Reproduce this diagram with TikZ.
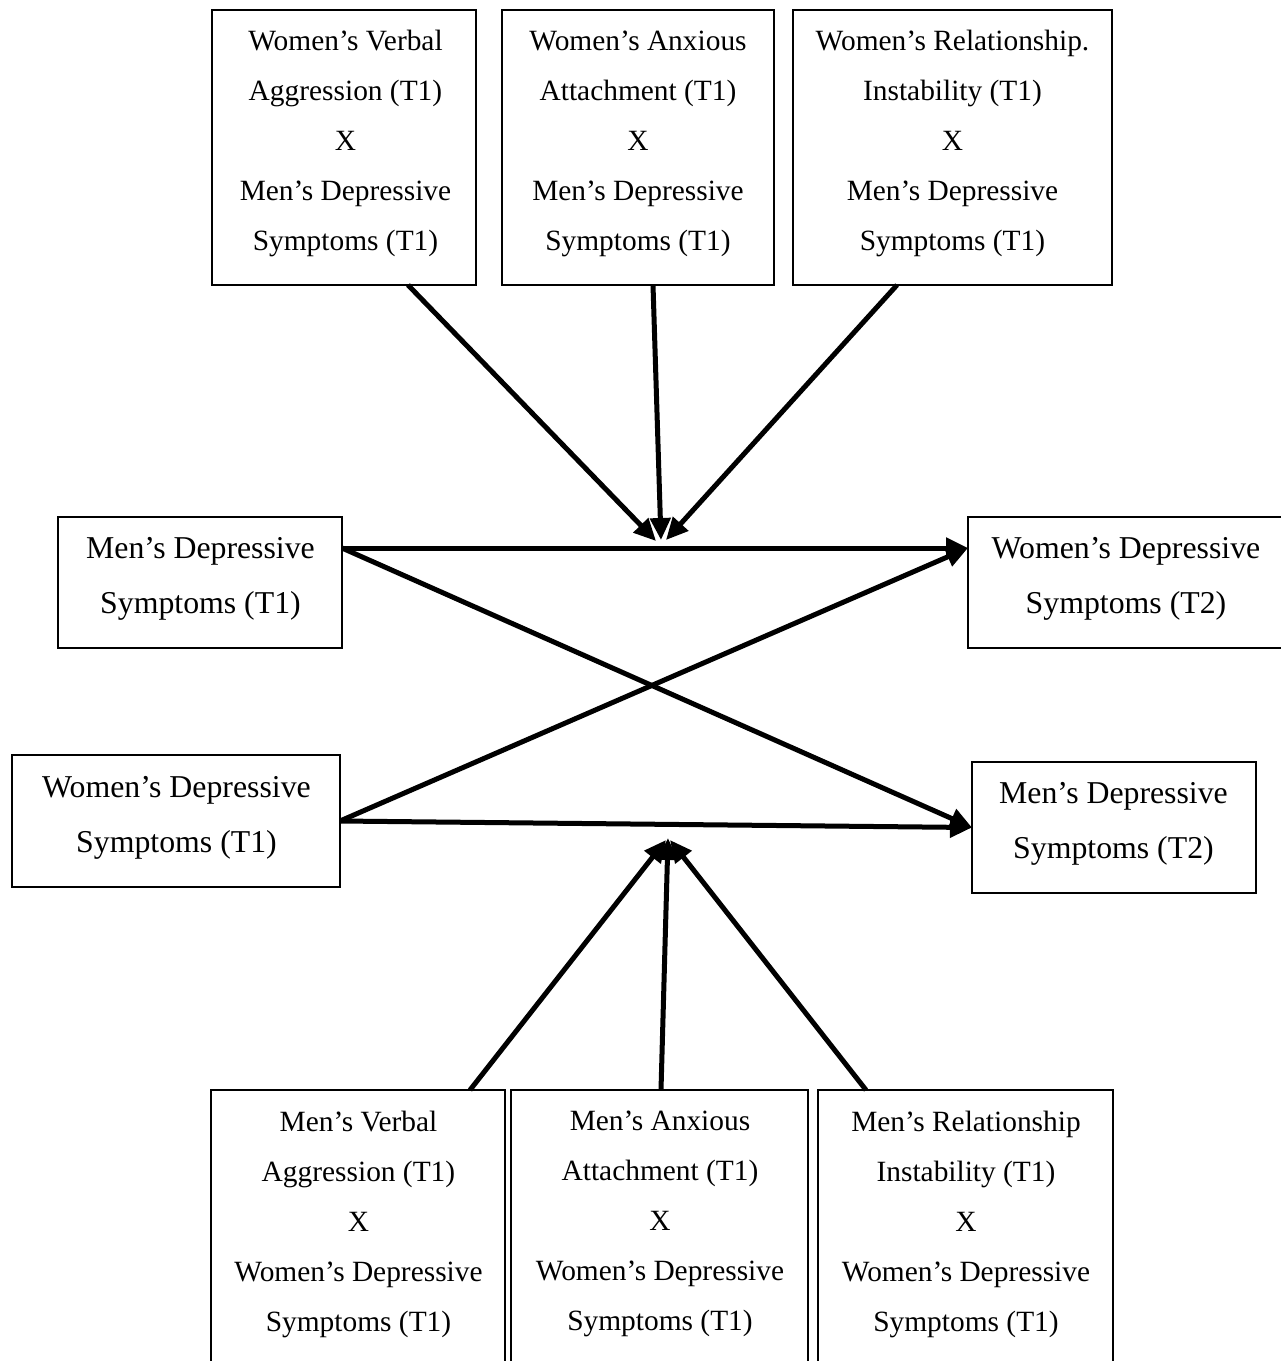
\documentclass[tikz,border=0pt]{standalone}
\usepackage{fontspec}
\setmainfont{Liberation Serif}
\usetikzlibrary{arrows.meta}
\begin{document}
\begin{tikzpicture}[x=1pt,y=-1pt,
  box/.style={draw=black, line width=2pt, rectangle, inner sep=0pt, outer sep=0pt},
  smalltxt/.style={align=center, inner sep=0pt, font=\fontsize{29.4}{50}\selectfont},
  bigtxt/.style={align=center, inner sep=0pt, font=\fontsize{31.8}{55}\selectfont},
  arr/.style={line width=5pt, -{Triangle[length=22pt,width=20pt]}}]
\useasboundingbox (0,0) rectangle (1281,1361);
\clip (0,0) rectangle (1281,1361);
% top boxes
\node[box, minimum width=264, minimum height=275] (wva) at (344,147.5) {};
\node[box, minimum width=272, minimum height=275] (wax) at (638,147.5) {};
\node[box, minimum width=319, minimum height=275] (wri) at (952.5,147.5) {};
\node[smalltxt] (wvat) at (345.5,143.7) {Women’s Verbal\\Aggression (T1)\\X\\Men’s Depressive\\Symptoms (T1)};
\node[smalltxt] (waxt) at (638,143.7) {Women’s Anxious\\Attachment (T1)\\X\\Men’s Depressive\\Symptoms (T1)};
\node[smalltxt] (writ) at (952.5,143.7) {Women’s Relationship.\\Instability (T1)\\X\\Men’s Depressive\\Symptoms (T1)};
% middle boxes
\node[box, minimum width=284, minimum height=131] (mdt1) at (200,582.5) {};
\node[bigtxt] (mdt1t) at (200.5,579) {Men’s Depressive\\Symptoms (T1)};
\node[box, minimum width=328, minimum height=132] (wdt1) at (176,821) {};
\node[bigtxt] (wdt1t) at (176.5,817.6) {Women’s Depressive\\Symptoms (T1)};
\node[box, minimum width=318, minimum height=131] (wdt2) at (1127,582.5) {};
\node[bigtxt] (wdt2t) at (1126,579) {Women’s Depressive\\Symptoms (T2)};
\node[box, minimum width=284, minimum height=131] (mdt2) at (1114,827.5) {};
\node[bigtxt] (mdt2t) at (1113.5,824) {Men’s Depressive\\Symptoms (T2)};
% bottom boxes
\node[box, minimum width=294, minimum height=320] (mva) at (358,1250) {};
\node[box, minimum width=297, minimum height=320] (max) at (659.5,1250) {};
\node[box, minimum width=295, minimum height=320] (mri) at (965.5,1250) {};
\node[smalltxt] (mvat) at (358.5,1224) {Men’s Verbal\\Aggression (T1)\\X\\Women’s Depressive\\Symptoms (T1)};
\node[smalltxt] (maxt) at (660,1224) {Men’s Anxious\\Attachment (T1)\\X\\Women’s Depressive\\Symptoms (T1)};
\node[smalltxt] (mrit) at (966,1224) {Men’s Relationship\\Instability (T1)\\X\\Women’s Depressive\\Symptoms (T1)};
% meeting points on the paths
\coordinate (tA) at (656,541);
\coordinate (tB) at (661,540);
\coordinate (tC) at (666,540);
\coordinate (bA) at (666,840);
\coordinate (bB) at (668,838);
\coordinate (bC) at (670,840);
% middle arrows
\draw[arr] ([yshift=34.5]mdt1.east) -- ([yshift=34.5]wdt2.west);
\draw[arr] ([yshift=34.5]mdt1.east) -- (mdt2.west);
\draw[arr] (wdt1.east) -- (mdt2.west);
\draw[arr] (wdt1.east) -- ([yshift=34.5]wdt2.west);
% moderator arrows
\draw[arr] ([xshift=64]wva.south) -- (tA);
\draw[arr] ([xshift=15]wax.south) -- (tB);
\draw[arr] ([xshift=-55.5]wri.south) -- (tC);
\draw[arr] ([xshift=112]mva.north) -- (bA);
\draw[arr] ([xshift=1.5]max.north) -- (bB);
\draw[arr] ([xshift=-99.5]mri.north) -- (bC);
\end{tikzpicture}
\end{document}
